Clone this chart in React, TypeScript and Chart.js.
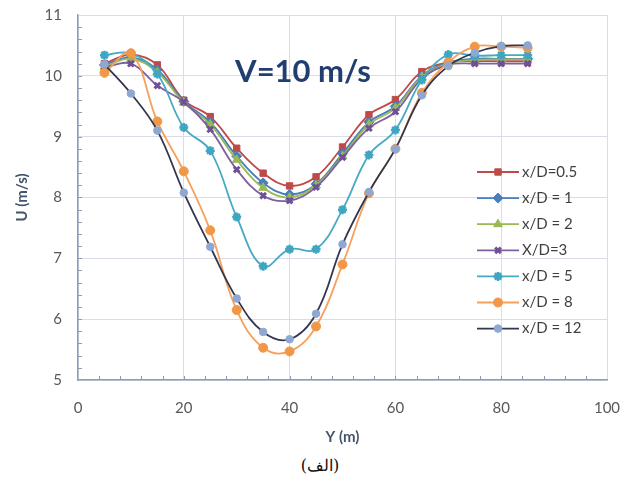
import React, { useEffect, useRef } from 'react';
import { Chart, registerables } from 'chart.js';
import { drawPoint } from 'chart.js/helpers';

Chart.register(...registerables);

// ---- data ----
const yPositions = [5, 10, 15, 20, 25, 30, 35, 40, 45, 50, 55, 60, 65, 70, 75, 80, 85];
const xD05 = [10.20, 10.35, 10.18, 9.60, 9.33, 8.81, 8.40, 8.19, 8.34, 8.83, 9.36, 9.61, 10.07, 10.22, 10.24, 10.24, 10.24];
const xD1 = [10.18, 10.30, 10.10, 9.58, 9.24, 8.68, 8.24, 8.05, 8.22, 8.72, 9.24, 9.50, 10.00, 10.22, 10.28, 10.28, 10.28];
const xD2 = [10.15, 10.28, 10.06, 9.56, 9.20, 8.62, 8.16, 8.00, 8.20, 8.68, 9.20, 9.47, 9.98, 10.20, 10.26, 10.27, 10.27];
const xD3 = [10.14, 10.20, 9.84, 9.57, 9.12, 8.46, 8.03, 7.95, 8.17, 8.66, 9.14, 9.41, 9.95, 10.18, 10.20, 10.20, 10.20];
const xD5 = [10.34, 10.37, 10.03, 9.15, 8.77, 7.68, 6.87, 7.15, 7.15, 7.80, 8.70, 9.11, 9.93, 10.35, 10.33, 10.34, 10.34];
const xD8 = [10.05, 10.37, 9.25, 8.43, 7.46, 6.15, 5.53, 5.47, 5.88, 6.90, 8.07, 8.80, 9.72, 10.22, 10.48, 10.48, 10.46];
const xD12 = [10.19, 9.71, 9.10, 8.08, 7.19, 6.34, 5.79, 5.67, 6.09, 7.23, 8.09, 8.80, 9.68, 10.16, 10.38, 10.49, 10.50];

const seriesLabels = ['x/D=0.5', 'x/D = 1', 'x/D = 2', 'X/D=3', 'x/D = 5', 'x/D = 8', 'x/D = 12'];
const seriesValues = [xD05, xD1, xD2, xD3, xD5, xD8, xD12];

const xMin = 0, xMax = 100, xStep = 20, xMinorStep = 4;
const yMin = 5, yMax = 11, yStep = 1, yMinorStep = 0.2;

const chartTitle = 'V=10 m/s';
const xTitle = 'Y (m)';
const yTitle = 'U (m/s)';
const caption = '(الف)';

// ---- styles ----
const lineColors = ['#BE4B48', '#4A7EBB', '#98B954', '#7D60A0', '#46AAC5', '#F6A05C', '#33364F'];
const markerColors = ['#BE4B48', '#4A7EBB', '#98B954', '#6E4F98', '#3FA6C2', '#F09848', '#8FA8D2'];
const markerStyles = ['rect', 'rectRot', 'triangle', 'crossRot', 'star', 'circle', 'circle'];
const markerRadius = [4.5, 5, 5, 4, 4.5, 4.5, 3.8];
const markerBorder = [1, 1, 1, 3, 2.5, 1, 1];

const FONT = 'Lato, "Open Sans", sans-serif';

const decorPlugin = {
  id: 'decor',
  beforeDatasetsDraw(chart: any) {
    const { ctx, chartArea, scales } = chart;
    const xs = scales.x, ys = scales.y;
    ctx.save();
    ctx.strokeStyle = '#8C9DB5';
    ctx.lineWidth = 1;
    ctx.beginPath();
    for (let v = xMin + xMinorStep; v < xMax; v += xMinorStep) {
      const px = Math.round(xs.getPixelForValue(v)) + 0.5;
      ctx.moveTo(px, chartArea.bottom);
      ctx.lineTo(px, chartArea.bottom - 4);
    }
    for (let v = yMin + yMinorStep; v < yMax - 1e-6; v += yMinorStep) {
      const py = Math.round(ys.getPixelForValue(v)) + 0.5;
      ctx.moveTo(chartArea.left, py);
      ctx.lineTo(chartArea.left + 4, py);
    }
    ctx.stroke();
    ctx.restore();
  },
  afterDraw(chart: any) {
    const { ctx, chartArea } = chart;
    ctx.save();
    // title inside plot
    ctx.font = `bold 31px ${FONT}`;
    ctx.fillStyle = '#213E70';
    ctx.textAlign = 'center';
    ctx.textBaseline = 'middle';
    ctx.fillText(chartTitle, chartArea.left + 225, chartArea.top + 57);

    // legend
    const lx1 = chartArea.right - 130;
    const lx2 = chartArea.right - 88;
    const mx = (lx1 + lx2) / 2;
    const ly0 = chartArea.top + 157;
    ctx.font = `15px ${FONT}`;
    ctx.textAlign = 'left';
    chart.data.datasets.forEach((ds: any, i: number) => {
      const y = ly0 + i * 26.1;
      ctx.strokeStyle = ds.borderColor;
      ctx.lineWidth = 1.8;
      ctx.beginPath();
      ctx.moveTo(lx1, y);
      ctx.lineTo(lx2, y);
      ctx.stroke();
      ctx.fillStyle = ds.pointBackgroundColor;
      ctx.strokeStyle = ds.pointBorderColor;
      ctx.lineWidth = ds.pointBorderWidth;
      drawPoint(ctx, { pointStyle: ds.pointStyle, rotation: 0, radius: ds.pointRadius, borderWidth: ds.pointBorderWidth }, mx, y);
      ctx.fillStyle = '#404040';
      ctx.fillText(ds.label, lx2 + 3, y);
    });
    ctx.restore();
  },
};

export default function App() {
  const ref = useRef<HTMLCanvasElement>(null);
  useEffect(() => {
    if (!ref.current) return;
    const datasets = seriesValues.map((vals, i) => ({
      label: seriesLabels[i],
      data: vals.map((v, j) => ({ x: yPositions[j], y: v })),
      borderColor: lineColors[i],
      borderWidth: 1.8,
      tension: 0.4,
      pointStyle: markerStyles[i],
      pointRadius: markerRadius[i],
      pointBackgroundColor: markerColors[i],
      pointBorderColor: markerColors[i],
      pointBorderWidth: markerBorder[i],
      fill: false,
      order: 10 - i,
    }));
    const chart = new Chart(ref.current, {
      type: 'line',
      data: { datasets },
      options: {
        animation: false,
        responsive: false,
        layout: { padding: { top: 15, right: 25, left: 0, bottom: 0 } },
        plugins: { legend: { display: false }, tooltip: { enabled: false }, title: { display: false } },
        scales: {
          x: {
            type: 'linear',
            min: xMin,
            max: xMax,
            afterFit: (s: any) => { s.height = 70; s.paddingLeft = 0; s.paddingRight = 0; },
            ticks: { stepSize: xStep, padding: 19, color: '#595959', font: { family: FONT, size: 15 } },
            grid: { color: '#D8DDE7', drawTicks: false, lineWidth: 1 },
            border: { color: '#8C9DB5', width: 1.5 },
            title: { display: true, text: xTitle, color: '#44546A', font: { family: FONT, size: 15, weight: 'bold' }, padding: { top: 0, bottom: 4 } },
          },
          y: {
            type: 'linear',
            min: yMin,
            max: yMax,
            afterFit: (s: any) => { s.width = 78; s.paddingTop = 0; s.paddingBottom = 0; },
            ticks: { stepSize: yStep, padding: 16, color: '#595959', font: { family: FONT, size: 15 } },
            grid: { color: '#D8DDE7', drawTicks: false, lineWidth: 1 },
            border: { color: '#8C9DB5', width: 1.5 },
            title: { display: true, text: yTitle, color: '#44546A', font: { family: FONT, size: 15, weight: 'bold' }, padding: { top: 13, bottom: 0 } },
          },
        },
      } as any,
      plugins: [decorPlugin],
    });
    return () => chart.destroy();
  }, []);
  return (
    <div style={{ position: 'absolute', left: 0, top: 0, width: 632, height: 488, background: '#fff' }}>
      <canvas ref={ref} width={632} height={450} style={{ display: 'block' }} />
      <div dir="rtl" style={{ position: 'absolute', left: 0, top: 456, width: 640, textAlign: 'center', fontFamily: '"DejaVu Serif", serif', fontSize: 16, color: '#111' }}>
        {caption}
      </div>
    </div>
  );
}
